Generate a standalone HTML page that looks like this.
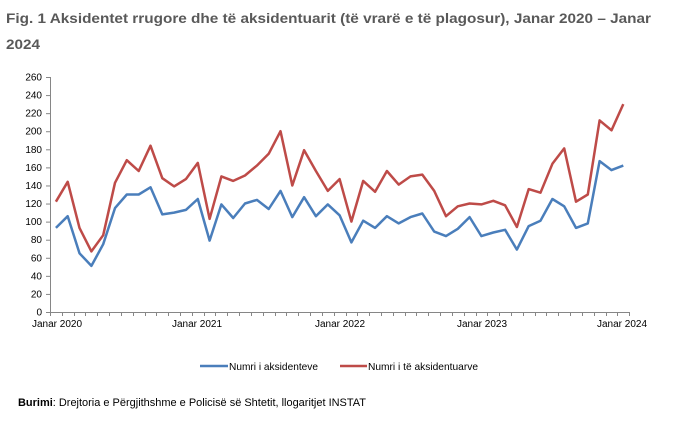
<!DOCTYPE html>
<html><head><meta charset="utf-8"><style>
body{margin:0;background:#fff;width:680px;height:424px;overflow:hidden}
svg{display:block;font-family:"Liberation Sans",Arial,sans-serif}
</style></head><body>
<svg id="s" width="680" height="424" viewBox="0 0 680 424">
<text x="6" y="23" font-size="14" font-weight="bold" fill="#595959" textLength="645" lengthAdjust="spacingAndGlyphs">Fig. 1 Aksidentet rrugore dhe të aksidentuarit (të vrarë e të plagosur), Janar 2020 – Janar</text>
<text x="6" y="49" font-size="14" font-weight="bold" fill="#595959" textLength="34" lengthAdjust="spacingAndGlyphs">2024</text>
<g id="ax" stroke="#868686" stroke-width="1" fill="none"></g>
<g id="yl" font-size="10" fill="#000" text-anchor="end"></g>
<g font-size="10" fill="#000" text-anchor="middle">
<text x="57" y="327">Janar 2020</text>
<text x="197" y="327">Janar 2021</text>
<text x="340" y="327">Janar 2022</text>
<text x="482" y="327">Janar 2023</text>
<text x="622" y="327">Janar 2024</text>
</g>
<polyline id="b" fill="none" stroke="#4a7ebb" stroke-width="2.5" stroke-linejoin="round"/>
<polyline id="r" fill="none" stroke="#be4b48" stroke-width="2.5" stroke-linejoin="round"/>
<line x1="200" y1="366" x2="228" y2="366" stroke="#4a7ebb" stroke-width="2.5"/>
<text x="229" y="370" font-size="10.5" fill="#000" textLength="89" lengthAdjust="spacingAndGlyphs">Numri i aksidenteve</text>
<line x1="340" y1="366" x2="367" y2="366" stroke="#be4b48" stroke-width="2.5"/>
<text x="368" y="370" font-size="10.5" fill="#000" textLength="110" lengthAdjust="spacingAndGlyphs">Numri i të aksidentuarve</text>
<text x="18" y="406" font-size="11" fill="#000" textLength="348" lengthAdjust="spacingAndGlyphs"><tspan font-weight="bold">Burimi</tspan>: Drejtoria e Përgjithshme e Policisë së Shtetit, llogaritjet INSTAT</text>
</svg>
<script>
var B=[93,106,65,51,75,115,130,130,138,108,110,113,125,79,119,104,120,124,114,134,105,127,106,119,107,77,101,93,106,98,105,109,89,84,92,105,84,88,91,69,95,101,125,117,93,98,167,157,162];
var R=[122,144,93,67,85,143,168,156,184,148,139,147,165,103,150,145,151,162,175,200,140,179,156,134,147,100,145,133,156,141,150,152,134,106,117,120,119,123,118,94,136,132,164,181,122,130,212,201,230];
var x0=50,dx=11.82,y0=312,k=235/260;
function pts(a){return a.map(function(v,i){return (x0+dx*(i+0.5)).toFixed(1)+","+(y0-v*k).toFixed(1)}).join(" ")}
document.getElementById("b").setAttribute("points",pts(B));
document.getElementById("r").setAttribute("points",pts(R));
var ax="",yl="";
ax+='<line x1="50.5" y1="77" x2="50.5" y2="312"/>';
ax+='<line x1="50" y1="312.5" x2="629" y2="312.5"/>';
for(var v=0;v<=260;v+=20){var y=(y0-v*k);ax+='<line x1="46" y1="'+(y+.5)+'" x2="50" y2="'+(y+.5)+'"/>';yl+='<text x="42" y="'+(y+3.5)+'">'+v+'</text>';}
for(var i=0;i<=49;i++){var x=Math.round(x0+dx*i)+.5;ax+='<line x1="'+x+'" y1="312" x2="'+x+'" y2="316"/>';}
document.getElementById("ax").innerHTML=ax;
document.getElementById("yl").innerHTML=yl;
</script>
</body></html>
